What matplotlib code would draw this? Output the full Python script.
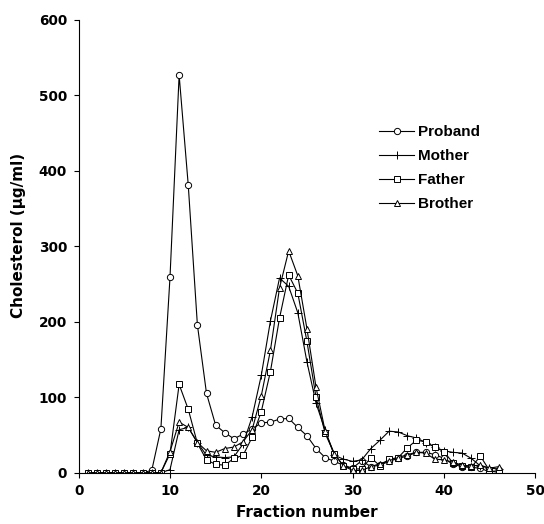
import matplotlib
matplotlib.use("Agg")
import matplotlib.pyplot as plt

plt.rcParams['font.family'] = ['DejaVu Sans']
plt.rcParams['font.weight'] = 'bold'

fraction = list(range(1, 47))

proband = [0, 0, 0, 0, 0, 0, 0, 3, 58, 259,
           527, 381, 196, 105, 63, 53, 45, 51, 58, 66,
           67, 71, 72, 60, 49, 32, 20, 15, 10, 6,
           16, 8, 10, 15, 19, 22, 27, 27, 24, 19,
           11, 8, 7, 6, 1, 3]
mother = [0, 0, 0, 0, 0, 0, 0, 0, 0, 4,
          57, 60, 40, 23, 21, 20, 21, 38, 74, 129,
          201, 258, 247, 212, 147, 92, 56, 23, 18, 15,
          17, 32, 43, 55, 54, 49, 46, 40, 34, 29,
          27, 26, 19, 9, 6, 5]
father = [0, 0, 0, 0, 0, 0, 0, 0, 0, 25,
          117, 84, 39, 17, 11, 10, 19, 23, 47, 81,
          134, 205, 262, 238, 174, 100, 52, 25, 9, 5,
          5, 20, 9, 18, 20, 33, 43, 41, 34, 28,
          13, 9, 7, 22, 3, 0]
brother = [0, 0, 0, 0, 0, 0, 0, 0, 0, 28,
           67, 60, 40, 29, 27, 32, 34, 41, 57, 102,
           162, 245, 294, 261, 191, 113, 55, 25, 9, 3,
           3, 8, 12, 16, 20, 24, 27, 26, 18, 17,
           14, 10, 9, 10, 6, 8]

series = [("Proband", proband, 'o', 4.5),
          ("Mother", mother, '+', 6),
          ("Father", father, 's', 4.3),
          ("Brother", brother, '^', 4.8)]

fig = plt.figure(figsize=(5.44, 5.24), dpi=100)
ax = fig.add_axes([0.1447, 0.0979, 0.839, 0.864])

for name, vals, mk, ms in series:
    ax.plot(fraction, vals, color='black', lw=0.8, marker=mk, markersize=ms,
            markerfacecolor='white', markeredgecolor='black',
            markeredgewidth=0.7, label=name)

ax.set_xlim(0, 50)
ax.set_ylim(0, 600)
ax.set_xticks(range(0, 51, 10))
ax.set_yticks(range(0, 601, 100))
ax.spines['top'].set_visible(False)
ax.spines['right'].set_visible(False)
ax.spines['left'].set_linewidth(0.8)
ax.spines['bottom'].set_linewidth(0.8)
ax.tick_params(direction='out', length=3.4, width=0.8, labelsize=9.8, pad=5)
for lab in ax.get_xticklabels() + ax.get_yticklabels():
    lab.set_fontweight('bold')

ax.set_xlabel("Fraction number", fontsize=11, fontweight='bold')
ax.set_ylabel("Cholesterol (\u00b5g/ml)", fontsize=11, fontweight='bold')
ax.xaxis.set_label_coords(0.5, -0.0713)
ax.yaxis.set_label_coords(-0.1155, 0.523)

ax.legend(loc='upper left', bbox_to_anchor=(0.628, 0.798), frameon=False,
          handlelength=2.3, handletextpad=0.27, labelspacing=0.65,
          borderpad=0.4,
          prop={'family': 'Liberation Sans', 'weight': 'bold', 'size': 11})

fig.savefig("out.png", dpi=100)
